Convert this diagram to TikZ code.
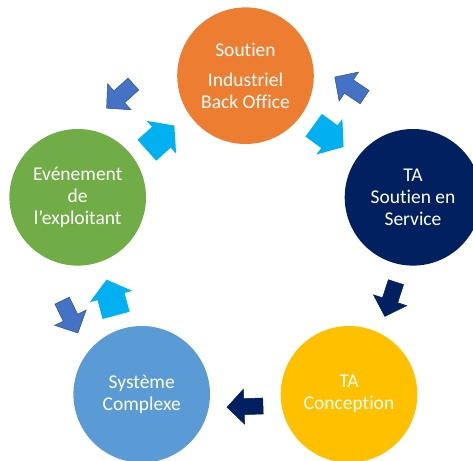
\documentclass[tikz,border=0pt]{standalone}
\usepackage{fontspec}
\setmainfont{Carlito}[Ligatures=NoCommon]
\definecolor{soutienorange}{HTML}{ED7D31}
\definecolor{servicenavy}{HTML}{002060}
\definecolor{exploitgreen}{HTML}{70AD47}
\definecolor{systemblue}{HTML}{5B9BD5}
\definecolor{conceptyellow}{HTML}{FFC000}
\definecolor{arrowblue}{HTML}{4472C4}
\definecolor{arrowcyan}{HTML}{00B0F0}
\tikzset{
  bubble/.style={circle, minimum size=136.6pt, inner sep=0pt, text=white,
    align=center, font=\fontsize{19.5}{22}\selectfont},
  % narrow block arrow, pointing along +x before rotation
  pics/thinarrow/.style 2 args={code={
    \filldraw[#2, rotate=#1] (-18,-8) -- (1,-8) -- (1,-17.5) -- (18,0)
      -- (1,17.5) -- (1,8) -- (-18,8) -- cycle;}},
  % wide block arrow
  pics/widearrow/.style 2 args={code={
    \fill[#2, rotate=#1] (-18.5,-14) -- (1,-14) -- (1,-22) -- (18.5,0)
      -- (1,22) -- (1,14) -- (-18.5,14) -- cycle;}}
}
\begin{document}
\begin{tikzpicture}[x=1pt,y=-1pt]
  \useasboundingbox (0,0) rectangle (473,460);
  \node[bubble, fill=soutienorange] at (245.5,75.7) (industriel) {Soutien\\[8pt]Industriel\\Back Office};
  \node[bubble, fill=servicenavy] at (413,197.3) (service) {TA\\Soutien en\\Service};
  \node[bubble, fill=exploitgreen] at (77.7,197.3) (exploitant) {Evénement\\de\\l’exploitant};
  \node[bubble, fill=systemblue] at (141.7,394.3) (systeme) {Système\\Complexe};
  \node[bubble, fill=conceptyellow] at (349,394.3) (conception) {TA\\Conception};
  % arrows round the cycle
  \pic at (120,96.1) {thinarrow={222}{fill=arrowblue, draw=arrowblue!70!black, line width=0.5pt}};
  \pic at (160.6,137.9) {widearrow={42}{arrowcyan}};
  \pic at (349.7,87.1) {thinarrow={146}{fill=arrowblue, draw=arrowblue!70!black, line width=0.5pt}};
  \pic at (328.6,136.1) {widearrow={-36}{arrowcyan}};
  \pic at (390.4,299.3) {thinarrow={252}{fill=servicenavy, draw=servicenavy, line width=0.5pt}};
  \pic at (245,406.6) {thinarrow={182}{fill=servicenavy, draw=servicenavy, line width=0.5pt}};
  \pic at (70,316.8) {thinarrow={296}{fill=arrowblue, draw=arrowblue!70!black, line width=0.5pt}};
  \pic at (111.3,297.5) {widearrow={105}{arrowcyan}};
\end{tikzpicture}
\end{document}
